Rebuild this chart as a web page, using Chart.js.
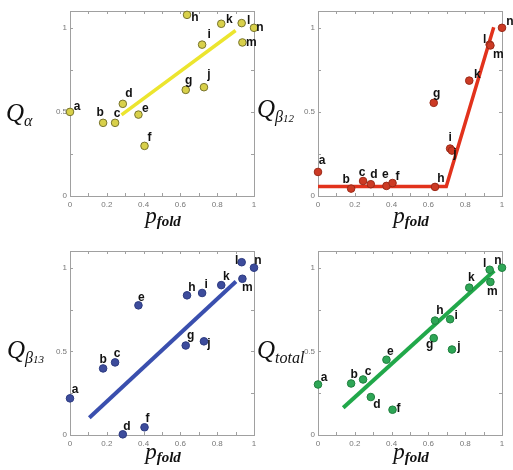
<!DOCTYPE html>
<html>
<head>
<meta charset="utf-8">
<script src="https://cdn.jsdelivr.net/npm/chart.js@4.4.0/dist/chart.umd.min.js"></script>
<style>
body { margin: 0; background: #fff; }
#wrap { position: relative; width: 513px; height: 470px; overflow: hidden; }
canvas { position: absolute; left: 0; top: 0; }
.lab { position: absolute; font-family: "Liberation Serif", serif; font-style: italic; color: #111; white-space: nowrap; line-height: 1; }
.q { font-size: 25px; }
.q sub { font-size: 16px; vertical-align: -5px; }
.p { font-size: 23px; transform: translateX(-50%); }
.p sub { font-size: 15px; vertical-align: -3px; font-weight: bold; }
</style>
</head>
<body>
<div id="wrap">
  <canvas id="cAlpha" width="513" height="470"></canvas>
  <canvas id="cBeta12" width="513" height="470"></canvas>
  <canvas id="cBeta13" width="513" height="470"></canvas>
  <canvas id="cTotal" width="513" height="470"></canvas>

  <div class="lab q" style="left:6px;top:100px">Q<sub>α</sub></div>
  <div class="lab q" style="left:257px;top:96px">Q<sub>β<span style="font-size:11px">12</span></sub></div>
  <div class="lab q" style="left:7px;top:337px">Q<sub>β<span style="font-size:11px">13</span></sub></div>
  <div class="lab q" style="left:257px;top:337px">Q<sub>total</sub></div>

  <div class="lab p" style="left:163px;top:204px">p<sub>fold</sub></div>
  <div class="lab p" style="left:411px;top:204px">p<sub>fold</sub></div>
  <div class="lab p" style="left:163px;top:440px">p<sub>fold</sub></div>
  <div class="lab p" style="left:411px;top:440px">p<sub>fold</sub></div>
</div>

<script>
// pfold of the 14 structures, shared by all four panels
const pfold = [0, 0.18, 0.245, 0.287, 0.372, 0.405, 0.629, 0.636, 0.718, 0.728, 0.822, 0.933, 0.937, 1.0];
const pointNames = ['a', 'b', 'c', 'd', 'e', 'f', 'g', 'h', 'i', 'j', 'k', 'l', 'm', 'n'];

const qAlpha  = [0.5, 0.435, 0.435, 0.548, 0.484, 0.298, 0.631, 1.077, 0.90, 0.647, 1.024, 1.028, 0.913, 1.0];
const qBeta12 = [0.143, 0.044, 0.089, 0.07, 0.06, 0.077, 0.554, 0.054, 0.282, 0.27, 0.686, 0.90, 0.895, 1.0];
const qBeta13 = [0.219, 0.398, 0.434, 0.004, 0.775, 0.046, 0.535, 0.835, 0.849, 0.56, 0.896, 1.033, 0.934, 1.0];
const qTotal  = [0.302, 0.308, 0.332, 0.227, 0.45, 0.151, 0.579, 0.684, 0.692, 0.511, 0.881, 0.988, 0.915, 1.0];

// fitted lines
const fitAlphaX  = [0.28, 0.9];
const fitAlphaY  = [0.482, 0.984];
const fitBeta12X = [0, 0.697, 0.955];
const fitBeta12Y = [0.056, 0.056, 1.004];
const fitBeta13X = [0.105, 0.902];
const fitBeta13Y = [0.103, 0.918];
const fitTotalX  = [0.137, 0.958];
const fitTotalY  = [0.163, 0.982];

const xTickValues = [0, 0.2, 0.4, 0.6, 0.8, 1];
const yTickValues = [0, 0.5, 1];
const xTickMarks = [0, 0.1, 0.2, 0.3, 0.4, 0.5, 0.6, 0.7, 0.8, 0.9, 1];
const yTickMarks = [0, 0.25, 0.5, 0.75, 1];

// where each letter sits relative to its dot, px
const nudgeAlpha  = [[7,-5],[-3,-10],[2,-9],[6,-10],[7,-6],[5,-8],[3,-9],[8,3],[7,-10],[5,-12],[8,-4],[7,-2],[9,0],[6,0]];
const nudgeBeta12 = [[4,-11],[-5,-9],[-1,-8],[3,-10],[-1,-11],[5,-6],[3,-9],[6,-8],[0,-11],[3,3],[8,-6],[-5,-5],[8,9],[8,-6]];
const nudgeBeta13 = [[5,-9],[0,-9],[2,-9],[4,-8],[3,-8],[3,-9],[5,-10],[5,-8],[4,-8],[5,2],[5,-8],[-5,-2],[5,9],[4,-7]];
const nudgeTotal  = [[6,-7],[3,-9],[5,-8],[6,8],[4,-8],[6,-1],[-4,7],[5,-10],[6,-4],[7,-3],[2,-10],[-5,-6],[2,10],[-4,-7]];

const framePlugin = {
    id: 'frame',
    beforeDatasetsDraw(chart) {
        const ctx = chart.ctx, a = chart.chartArea;
        const x = chart.scales.x, y = chart.scales.y;
        ctx.save();
        ctx.strokeStyle = '#a0a0a0';
        ctx.lineWidth = 1;
        ctx.strokeRect(Math.round(a.left) + 0.5, Math.round(a.top) + 0.5,
                       Math.round(a.right - a.left), Math.round(a.bottom - a.top));
        ctx.beginPath();
        xTickMarks.forEach(v => {
            const px = Math.round(x.getPixelForValue(v)) + 0.5;
            ctx.moveTo(px, a.bottom); ctx.lineTo(px, a.bottom - 3);
            ctx.moveTo(px, a.top); ctx.lineTo(px, a.top + 3);
        });
        yTickMarks.forEach(v => {
            const py = Math.round(y.getPixelForValue(v)) + 0.5;
            ctx.moveTo(a.left, py); ctx.lineTo(a.left + 3, py);
            ctx.moveTo(a.right, py); ctx.lineTo(a.right - 3, py);
        });
        ctx.stroke();
        ctx.restore();
    }
};

const namePlugin = {
    id: 'names',
    afterDatasetsDraw(chart, args, opts) {
        const ctx = chart.ctx;
        const meta = chart.getDatasetMeta(0);
        ctx.save();
        ctx.font = 'bold 12px "Liberation Sans", Arial, sans-serif';
        ctx.fillStyle = '#111';
        ctx.textAlign = 'center';
        ctx.textBaseline = 'middle';
        meta.data.forEach((pt, i) => {
            const n = opts.nudge[i];
            ctx.fillText(pointNames[i], pt.x + n[0], pt.y + n[1]);
        });
        ctx.restore();
    }
};

function makePanel(id, box, values, fitX, fitY, dotFill, dotEdge, lineColor, lineWidth, nudge) {
    new Chart(document.getElementById(id), {
        data: {
            datasets: [{
                type: 'scatter',
                data: pfold.map((x, i) => ({ x: x, y: values[i] })),
                pointRadius: 3.8,
                backgroundColor: dotFill,
                borderColor: dotEdge,
                borderWidth: 1,
                clip: false,
                order: 1
            }, {
                type: 'line',
                data: fitX.map((x, i) => ({ x: x, y: fitY[i] })),
                borderColor: lineColor,
                borderWidth: lineWidth,
                pointRadius: 0,
                fill: false,
                tension: 0,
                order: 2
            }]
        },
        options: {
            responsive: false,
            animation: false,
            layout: {
                padding: { left: box.left - 24, top: box.top, right: 513 - box.right, bottom: 470 - box.bottom - 16 }
            },
            plugins: {
                legend: { display: false },
                tooltip: { enabled: false },
                names: { nudge: nudge }
            },
            scales: {
                x: {
                    type: 'linear', min: 0, max: 1,
                    grid: { display: false, drawTicks: false }, border: { display: false },
                    afterBuildTicks: s => { s.ticks = xTickValues.map(v => ({ value: v })); },
                    afterFit: s => { s.height = 16; },
                    ticks: { font: { size: 8, family: '"Liberation Sans", Arial' }, color: '#777', padding: 4,
                             maxRotation: 0, autoSkip: false, callback: v => String(v) }
                },
                y: {
                    type: 'linear', min: 0, max: 1.1,
                    grid: { display: false, drawTicks: false }, border: { display: false },
                    afterBuildTicks: s => { s.ticks = yTickValues.map(v => ({ value: v })); },
                    afterFit: s => { s.width = 24; },
                    ticks: { font: { size: 8, family: '"Liberation Sans", Arial' }, color: '#777', padding: 3,
                             autoSkip: false, callback: v => String(v) }
                }
            }
        },
        plugins: [framePlugin, namePlugin]
    });
}

makePanel('cAlpha',  { left: 70,  right: 254, top: 11,  bottom: 196 }, qAlpha,  fitAlphaX,  fitAlphaY,
          '#d8d04a', '#77732c', '#ece52e', 3.5, nudgeAlpha);
makePanel('cBeta12', { left: 318, right: 502, top: 11,  bottom: 196 }, qBeta12, fitBeta12X, fitBeta12Y,
          '#cc3a24', '#9a2a18', '#e2321c', 3.5, nudgeBeta12);
makePanel('cBeta13', { left: 70,  right: 254, top: 251, bottom: 435 }, qBeta13, fitBeta13X, fitBeta13Y,
          '#3d4c9c', '#2c3a80', '#3a4fae', 4, nudgeBeta13);
makePanel('cTotal',  { left: 318, right: 502, top: 251, bottom: 435 }, qTotal,  fitTotalX,  fitTotalY,
          '#2ea656', '#1f7f3e', '#21a84a', 4, nudgeTotal);
</script>
</body>
</html>
